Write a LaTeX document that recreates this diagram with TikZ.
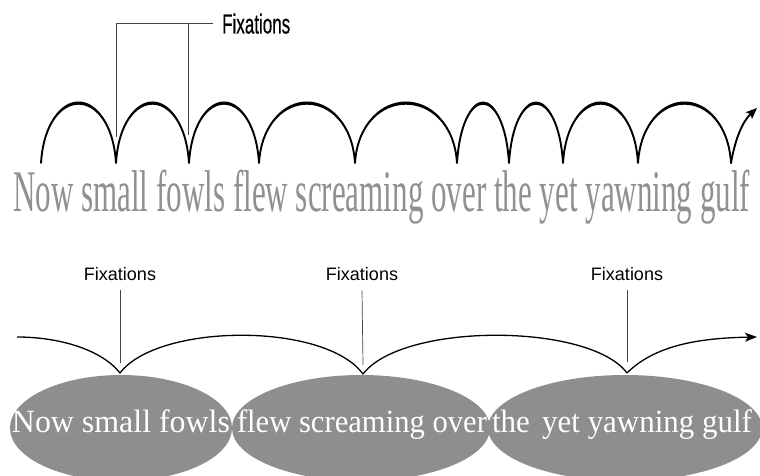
\documentclass[tikz,border=0pt]{standalone}
\usepackage{fontspec}
\setmainfont{Liberation Serif}
\setsansfont{Liberation Sans}
\usetikzlibrary{shapes.geometric,arrows.meta,calc}
\definecolor{txtgray}{HTML}{909090}
\definecolor{ellgray}{HTML}{8E8E8E}
\definecolor{linegray}{HTML}{444444}
\tikzset{
  arcline/.style={line width=1.9pt, line cap=round, line join=round},
  lowline/.style={line width=1.3pt, line join=round},
  pointer/.style={line width=0.7pt, draw=linegray},
  fixlab/.style={font=\sffamily\fontsize{18}{18}\selectfont, inner sep=0pt, anchor=base},
  blob/.style={ellipse, fill=ellgray, draw=none, inner sep=0pt},
  blobtext/.style={font=\fontsize{33}{33}\selectfont, text=white, inner sep=0pt, anchor=base},
}
\begin{document}
\begin{tikzpicture}[x=1pt,y=-1pt]
\useasboundingbox (0,0) rectangle (760,476);
\clip (0,0) rectangle (760,476);
\fill[white] (0,0) rectangle (760,476);

% ---------- top part ----------
\node[font=\sffamily\addfontfeature{FakeBold=0.6}, inner sep=0pt, anchor=base west] (topfix) at (222,33.5)
  {\resizebox{68pt}{20pt}{Fixations}};
\coordinate (b1) at (116,23);
\coordinate (b2) at (188,23);
\coordinate (b3) at (213,23);
\coordinate (p1) at (116,137);
\coordinate (p2) at (188,135);
\draw[pointer] (b3) -- (b1) -- (p1);
\draw[pointer] (b2) -- (p2);

\foreach \n/\x in {0/41,1/116,2/189,3/259,4/355,5/457,6/509,7/563,8/638,9/731}
  \coordinate (c\n) at (\x,163);
\coordinate (tipA) at (757,108);

\draw[arcline]
  (c0) \foreach \a/\b in {0/1,1/2,2/3,3/4,4/5,5/6,6/7,7/8,8/9}{
    .. controls ($(c\a)+(5,-79)$) and ($(c\b)+(-5,-79)$) .. (c\b) };
\foreach \a/\b in {0/1,1/2,2/3,3/4,4/5,5/6,6/7,7/8,8/9}{
  \fill (c\a) .. controls ($(c\a)+(5,-82)$) and ($(c\b)+(-5,-82)$) .. (c\b)
              .. controls ($(c\b)+(-5,-79)$) and ($(c\a)+(5,-79)$) .. (c\a) -- cycle;
}
\draw[arcline, -{Stealth[length=11pt,width=9pt,inset=2pt]}]
  (c9) .. controls (735,140) and (742,122) .. (tipA);

\node[inner sep=0pt, anchor=base west, text=txtgray] (sent) at (13,211.7)
  {\resizebox{737pt}{41.5pt}{\fontsize{60}{60}\selectfont Now small fowls flew screaming over the yet yawning gulf}};

% ---------- bottom part ----------
\node[blob, minimum width=222pt, minimum height=106pt] (e1) at (121,428) {};
\node[blob, minimum width=258pt, minimum height=106pt] (e2) at (361,428) {};
\node[blob, minimum width=274pt, minimum height=106pt] (e3) at (625,428) {};

\node[blobtext] (w1) at (121,432.5) {\resizebox{218pt}{22.8pt}{Now small fowls}};
\node[blobtext] (w2) at (362,432.5) {\resizebox{250pt}{22.8pt}{flew screaming over}};
\node[blobtext] (w3) at (622,432.5) {\resizebox{260pt}{22.8pt}{the\hspace{0.15em} yet yawning gulf}};

\node[fixlab] (f1) at (120,280) {Fixations};
\node[fixlab] (f2) at (362,280) {Fixations};
\node[fixlab] (f3) at (627,280) {Fixations};

\coordinate (s0) at (17,337);
\coordinate (k1) at (120,373);
\coordinate (k2) at (363,374);
\coordinate (k3) at (627,373);
\coordinate (tipB) at (757,337);

\draw[pointer] ([yshift=-10pt]f1.south) -- ([yshift=10pt]k1);
\draw[pointer] ([yshift=-10pt]f2.south) -- ([yshift=9pt]k2);
\draw[pointer] ([yshift=-10pt]f3.south) -- ([yshift=11pt]k3);

\draw[lowline]
  (s0) .. controls (60,337) and (102,350) .. (k1)
       .. controls (158,323) and (325,322) .. (k2)
       .. controls (403,322) and (590,323) .. (k3);
\draw[lowline, -{Stealth[length=12pt,width=9pt,inset=3pt]}]
  (k3) .. controls (655,345) and (700,338) .. (tipB);

\end{tikzpicture}
\end{document}
